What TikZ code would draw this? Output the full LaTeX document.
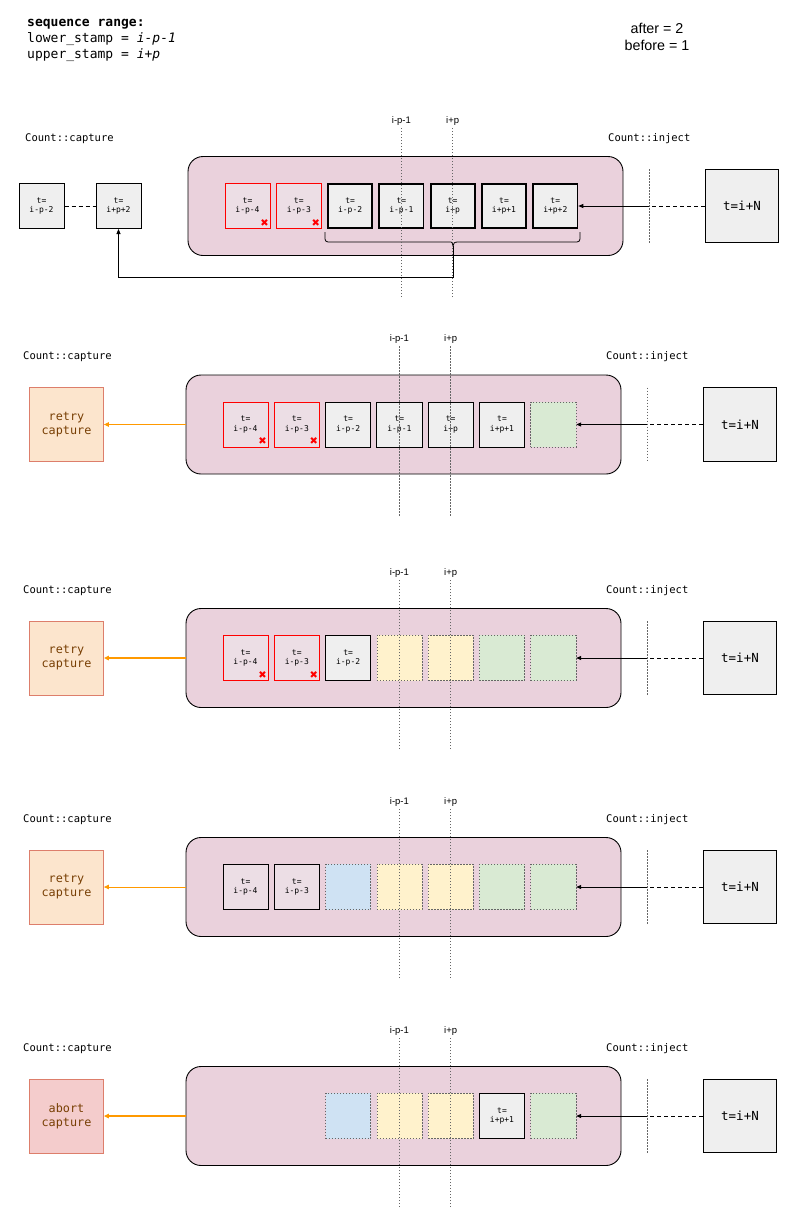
\documentclass[tikz,border=0pt]{standalone}
\usepackage{fontspec}
\setmainfont{Liberation Sans}
\setmonofont{DejaVu Sans Mono}
\newfontfamily\simbolos{DejaVu Sans}
\usetikzlibrary{arrows.meta}
\definecolor{fondorosa}{HTML}{EAD1DC}
\definecolor{celdarosa}{HTML}{ECDEE5}
\definecolor{gris}{HTML}{EFEFEF}
\definecolor{grisoscuro}{HTML}{666666}
\definecolor{verde}{HTML}{D9EAD3}
\definecolor{amarillo}{HTML}{FFF2CC}
\definecolor{azul}{HTML}{CFE2F3}
\definecolor{melocoton}{HTML}{FCE5CD}
\definecolor{rojoclaro}{HTML}{F4CCCC}
\definecolor{salmon}{HTML}{DD7E6B}
\definecolor{marron}{HTML}{783F04}
\definecolor{naranja}{HTML}{FF9900}
\begin{document}
\begin{tikzpicture}[x=1pt, y=-1pt,
	celda/.style={draw, fill=gris, line width=0.8pt, minimum size=45.2pt, inner sep=0pt, align=center, font=\ttfamily\fontsize{8}{9.5}\selectfont},
	gruesa/.style={celda, line width=1.8pt, minimum size=44.2pt},
	roja/.style={celda, draw=red, fill=celdarosa},
	rosada/.style={celda, fill=celdarosa},
	vacia/.style={celda, draw=grisoscuro, line width=0.6pt, dash pattern=on 1.5pt off 1.5pt},
	vverde/.style={vacia, fill=verde},
	vamarillo/.style={vacia, fill=amarillo},
	vazul/.style={vacia, fill=azul},
	cruz/.style={text=red, inner sep=0pt, font=\simbolos\fontsize{10}{10}\selectfont},
	marco/.style={draw, fill=fondorosa, line width=0.9pt, rounded corners=15pt, minimum width=435pt, minimum height=99pt},
	captura/.style={draw=salmon, line width=0.8pt, minimum size=74pt, align=center, text=marron, font=\ttfamily\fontsize{11.8}{14}\selectfont},
	inyecta/.style={draw, fill=gris, line width=0.8pt, minimum size=73.5pt, font=\ttfamily\fontsize{12.5}{15}\selectfont},
	guia/.style={draw=grisoscuro, line width=0.5pt, dash pattern=on 1.5pt off 1.5pt},
	guiatexto/.style={inner sep=1.5pt, font=\fontsize{9.5}{10}\selectfont},
	etiqueta/.style={anchor=west, inner sep=0pt, font=\ttfamily\fontsize{10.5}{12}\selectfont},
	discont/.style={line width=0.8pt, dash pattern=on 4pt off 3pt},
	flecha/.style={-{Triangle[length=5pt,width=4pt]}, line width=0.8pt},
	salida/.style={-{Triangle[length=5pt,width=4.5pt]}, draw=naranja, line width=#1},
	salida/.default=0.8pt]
	\useasboundingbox (0,0) rectangle (807,1226);
	
	% Rango de la secuencia y parametros
	\node[anchor=north west, align=left, inner sep=0pt, font=\ttfamily\fontsize{13}{16}\selectfont] (rango) at (27,19)
		{\textbf{sequence range:}\\lower\_stamp = \textit{i-p-1}\\upper\_stamp = \textit{i+p}};
	\node[align=center, font=\fontsize{14.3}{17}\selectfont] (params) at (657,37) {after = 2\\before = 1};
	
	% Fondos de los cinco pasos
	\foreach \n/\dx/\yc in {1/2/206, 2/0/424.5, 3/0/658, 4/0/887, 5/0/1116}
		\node[marco] (marco\n) at ({403.5+\dx},\yc) {};
	
	% Primer paso
	\begin{scope}[shift={(2,206)}]
		\foreach \k/\est/\txt in {1/roja/{t=\\i-p-4}, 2/roja/{t=\\i-p-3}, 3/gruesa/{t=\\i-p-2}, 4/gruesa/{t=\\i-p-1}, 5/gruesa/{t=\\i+p}, 6/gruesa/{t=\\i+p+1}, 7/gruesa/{t=\\i+p+2}}
			\node[\est] (c1-\k) at ({245.5+51.3*(\k-1)},0) {\txt};
		\foreach \k in {1,2}
			\node[cruz] (x1-\k) at ([shift={(-6,-6)}]c1-\k.south east) {✖};
		% casillas ya capturadas
		\node[celda] (izq1) at (39.5,0) {t=\\i-p-2};
		\node[celda] (izq2) at (116.5,0) {t=\\i+p+2};
		\draw[discont] (izq1) -- (izq2);
		% llave bajo las celdas
		\coordinate (punta) at (451,40);
		\draw[line width=0.8pt, rounded corners=3pt] (323,26) -- (323,36) -- (446,36) [sharp corners]
			.. controls (449.5,36) and (451,37) .. (punta)
			.. controls (451,37) and (452.5,36) .. (456,36) [rounded corners=3pt] -- (578,36) -- (578,26);
		\draw[flecha] (punta) -- (451,71) -| (izq2.south);
	\end{scope}
	
	% Segundo paso
	\begin{scope}[shift={(0,424.5)}]
		\foreach \k/\est/\txt in {1/roja/{t=\\i-p-4}, 2/roja/{t=\\i-p-3}, 3/celda/{t=\\i-p-2}, 4/celda/{t=\\i-p-1}, 5/celda/{t=\\i+p}, 6/celda/{t=\\i+p+1}, 7/vverde/{}}
			\node[\est] (c2-\k) at ({245.5+51.3*(\k-1)},0) {\txt};
		\foreach \k in {1,2}
			\node[cruz] (x2-\k) at ([shift={(-6,-6)}]c2-\k.south east) {✖};
		\node[captura, fill=melocoton] (cap2) at (66.5,0) {retry\\capture};
		\draw[salida] (marco2.west) -- (cap2.east);
	\end{scope}
	
	% Tercer paso
	\begin{scope}[shift={(0,658)}]
		\foreach \k/\est/\txt in {1/roja/{t=\\i-p-4}, 2/roja/{t=\\i-p-3}, 3/celda/{t=\\i-p-2}, 4/vamarillo/{}, 5/vamarillo/{}, 6/vverde/{}, 7/vverde/{}}
			\node[\est] (c3-\k) at ({245.5+51.3*(\k-1)},0) {\txt};
		\foreach \k in {1,2}
			\node[cruz] (x3-\k) at ([shift={(-6,-6)}]c3-\k.south east) {✖};
		\node[captura, fill=melocoton] (cap3) at (66.5,0) {retry\\capture};
		\draw[salida=1.4pt] (marco3.west) -- (cap3.east);
	\end{scope}
	
	% Cuarto paso
	\begin{scope}[shift={(0,887)}]
		\foreach \k/\est/\txt in {1/rosada/{t=\\i-p-4}, 2/rosada/{t=\\i-p-3}, 3/vazul/{}, 4/vamarillo/{}, 5/vamarillo/{}, 6/vverde/{}, 7/vverde/{}}
			\node[\est] (c4-\k) at ({245.5+51.3*(\k-1)},0) {\txt};
		\node[captura, fill=melocoton] (cap4) at (66.5,0) {retry\\capture};
		\draw[salida] (marco4.west) -- (cap4.east);
	\end{scope}
	
	% Quinto paso
	\begin{scope}[shift={(0,1116)}]
		\foreach \k/\est/\txt in {3/vazul/{}, 4/vamarillo/{}, 5/vamarillo/{}, 6/celda/{t=\\i+p+1}, 7/vverde/{}}
			\node[\est] (c5-\k) at ({245.5+51.3*(\k-1)},0) {\txt};
		\node[captura, fill=rojoclaro] (cap5) at (66.5,0) {abort\\capture};
		\draw[salida=1.4pt] (marco5.west) -- (cap5.east);
	\end{scope}
	
	% Guias, etiquetas e inyeccion en cada paso
	\foreach \n/\dx/\yc in {1/2/206, 2/0/424.5, 3/0/658, 4/0/887, 5/0/1116}{
		\begin{scope}[shift={(\dx,\yc)}]
			\draw[guia] (399.4,91) -- (399.4,-79) node[above, guiatexto] (ga\n) {i-p-1};
			\draw[guia] (450.7,91) -- (450.7,-79) node[above, guiatexto] (gb\n) {i+p};
			\node[etiqueta] (capt\n) at (23,-67.5) {Count::capture};
			\node[etiqueta] (inj\n) at (606,-67.5) {Count::inject};
			\node[inyecta] (iny\n) at (740,0) {t=i+N};
			\draw[guia] (647,-37) -- (647,37);
			\coordinate (corte\n) at (647,0);
			\draw[discont] (iny\n) -- (corte\n);
			\draw[flecha] (corte\n) -- (c\n-7);
		\end{scope}
	}
\end{tikzpicture}
\end{document}
